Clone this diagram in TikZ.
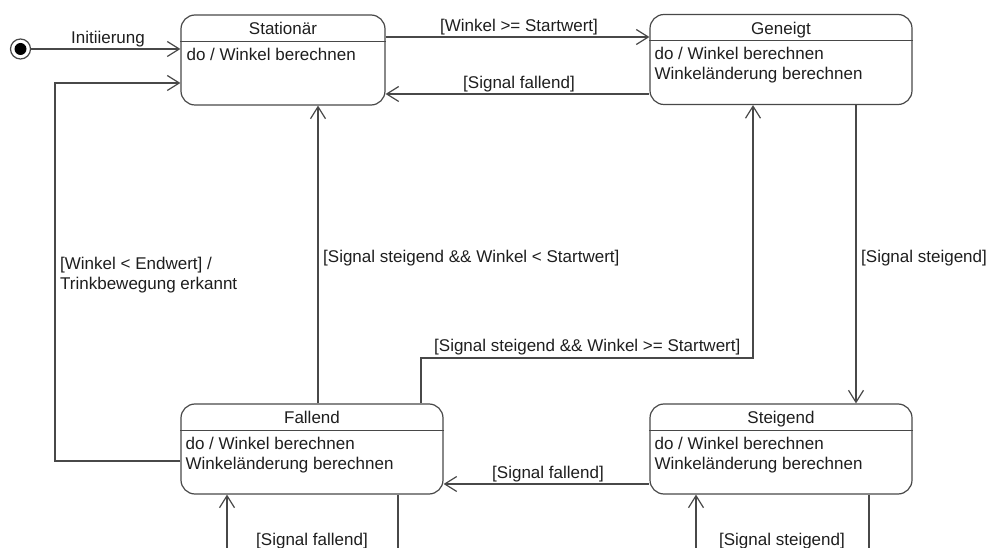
\documentclass[tikz,border=0pt]{standalone}
\usepackage{fontspec}
\setmainfont{Liberation Sans}
\usetikzlibrary{arrows.meta}
\definecolor{ln}{RGB}{72,72,72}
\definecolor{tx}{RGB}{30,30,30}
\begin{document}
\begin{tikzpicture}[x=1pt,y=-1pt,
  font=\fontsize{17}{20}\selectfont, text=tx,
  state/.style={draw=ln, line width=1.2pt, rounded corners=14pt, minimum height=90pt, inner sep=0pt},
  conn/.style={draw=ln, line width=1.2pt},
  arr/.style={conn, -{Straight Barb[length=12pt,width=15pt,line width=1.2pt]}},
  hdr/.style={inner sep=0pt, anchor=base},
  body/.style={inner sep=0pt, anchor=base west, align=left},
  lbl/.style={inner sep=0pt, anchor=base},
  lbll/.style={inner sep=0pt, anchor=base west, align=left}]
\useasboundingbox (0,0) rectangle (989,548);
\clip (0,0) rectangle (989,548);

% states
\node[state, minimum width=204pt] (stat) at (283,60) {};
\node[state, minimum width=262pt] (gen) at (781,59.5) {};
\node[state, minimum width=262pt] (fall) at (312,449) {};
\node[state, minimum width=262pt] (steig) at (781,449) {};

\foreach \s in {stat,gen,fall,steig}{
  \draw[conn] ([yshift=-27pt]\s.north west) -- ([yshift=-27pt]\s.north east);
}

\node[hdr] (statH) at ([yshift=-20.5pt]stat.north) {Stationär};
\node[hdr] (genH) at ([yshift=-20.5pt]gen.north) {Geneigt};
\node[hdr] (fallH) at ([yshift=-20.5pt]fall.north) {Fallend};
\node[hdr] (steigH) at ([yshift=-20.5pt]steig.north) {Steigend};

% (base anchor of a multi-line node lies on its last line)
\node[body] (statB) at ([xshift=6pt,yshift=-46pt]stat.north west) {do / Winkel berechnen};
\node[body] (genB) at ([xshift=5pt,yshift=-66pt]gen.north west) {do / Winkel berechnen\\Winkeländerung berechnen};
\node[body] (fallB) at ([xshift=5pt,yshift=-66pt]fall.north west) {do / Winkel berechnen\\Winkeländerung berechnen};
\node[body] (steigB) at ([xshift=5pt,yshift=-66pt]steig.north west) {do / Winkel berechnen\\Winkeländerung berechnen};

% initial state
\node[circle, draw=ln, line width=1.2pt, minimum size=20pt, inner sep=0pt] (init) at (20.5,49) {};
\node[circle, fill=black, minimum size=12pt, inner sep=0pt] (initdot) at (init) {};
\draw[arr] (init.east) -- (init.east -| stat.west);
\node[lbl] (l0) at (108,44) {Initiierung};

% helper coordinates
\coordinate (sg) at (0,37);
\coordinate (gsy) at (0,94);
\coordinate (gs) at (856,0);
\coordinate (sf) at (0,484);
\coordinate (fs) at (318,0);
\coordinate (fg) at (421,358);
\coordinate (fg2) at (753,358);
\coordinate (lp1) at (55,461);
\coordinate (lp2) at (55,83);
\coordinate (flb) at (0,600);
\coordinate (fl1) at (398,0);
\coordinate (fl2) at (227,0);
\coordinate (sl1) at (869,0);
\coordinate (sl2) at (696,0);

% transitions
\draw[arr] (stat.east |- sg) -- (gen.west |- sg);
\node[lbl] (l1) at (519,31.5) {[Winkel >= Startwert]};

\draw[arr] (gen.west |- gsy) -- (stat.east |- gsy);
\node[lbl] (l2) at (519,88.5) {[Signal fallend]};

\draw[arr] (gen.south -| gs) -- (steig.north -| gs);
\node[lbll] (l3) at (861,263) {[Signal steigend]};

\draw[arr] (steig.west |- sf) -- (fall.east |- sf);
\node[lbl] (l4) at (548,478.5) {[Signal fallend]};

\draw[arr] (fall.north -| fs) -- (stat.south -| fs);
\node[lbll] (l5) at (323,263) {[Signal steigend \&\& Winkel < Startwert]};

\draw[arr] (fall.north -| fg) -- (fg) -- (fg2) -- (fg2 |- gen.south);
\node[lbll] (l6) at (434,352) {[Signal steigend \&\& Winkel >= Startwert]};

\draw[arr] (fall.west |- lp1) -- (lp1) -- (lp2) -- (lp2 -| stat.west);
\node[lbll] (l7) at (60,290) {[Winkel < Endwert] /\\Trinkbewegung erkannt};

\draw[arr] (fall.south -| fl1) -- (flb -| fl1) -- (flb -| fl2) -- (fall.south -| fl2);
\node[lbl] (l8) at (312,545.5) {[Signal fallend]};

\draw[arr] (steig.south -| sl1) -- (flb -| sl1) -- (flb -| sl2) -- (steig.south -| sl2);
\node[lbl] (l9) at (782,545.5) {[Signal steigend]};
\end{tikzpicture}
\end{document}
